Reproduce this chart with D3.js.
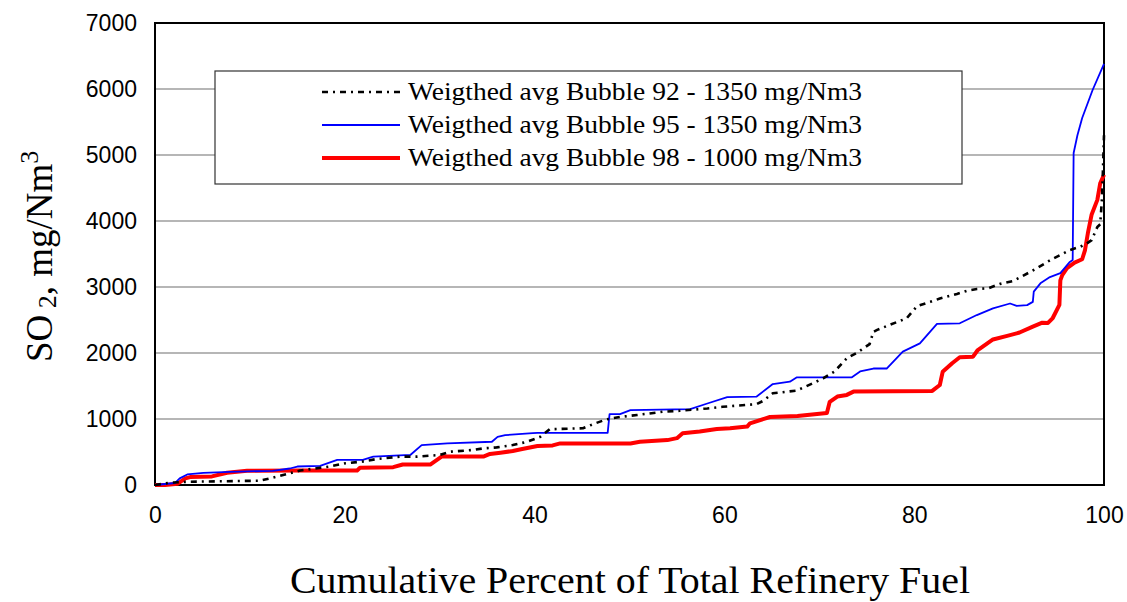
<!DOCTYPE html>
<html><head><meta charset="utf-8">
<script src="https://cdn.jsdelivr.net/npm/d3@7"></script>
<style>body{margin:0;background:#fff}svg{display:block}</style>
</head><body>
<svg id="c" width="1127" height="602"></svg>
<script>
// ---- data (x = cumulative % of total refinery fuel, y = SO2 mg/Nm3) ----
const xTicks = [0, 20, 40, 60, 80, 100];
const yTicks = [0, 1000, 2000, 3000, 4000, 5000, 6000, 7000];
const seriesNames = [
  "Weigthed avg Bubble 92 - 1350 mg/Nm3",
  "Weigthed avg Bubble 95 - 1350 mg/Nm3",
  "Weigthed avg Bubble 98 - 1000 mg/Nm3"
];
const bubble92X = [0,1.6,3.7,11.0,12.1,13.5,15.3,18.4,20.1,21.9,23.4,25.8,27.6,30.0,31.1,33.5,34.6,36.0,37.7,39.2,40.6,41.6,45.1,46.4,47.6,49.2,50.8,53.5,55.3,58.2,59.8,63.4,64.1,65.1,67.6,69.3,70.4,71.6,72.9,74.0,75.3,75.7,76.1,77.4,79.2,80.3,81.7,82.7,84.5,85.6,86.6,87.8,89.0,90.4,91.4,92.7,94.5,95.4,96.4,97.5,98.2,98.7,99.3,99.6,99.8,99.9,100];
const bubble92Y = [0,35,50,65,100,150,220,280,330,355,395,430,430,455,505,530,555,570,605,655,730,845,860,935,995,1035,1060,1110,1125,1160,1185,1225,1275,1390,1430,1540,1615,1720,1920,2005,2135,2320,2350,2425,2525,2710,2775,2825,2895,2945,2970,2980,3045,3090,3165,3265,3420,3485,3560,3610,3660,3710,3910,3950,4370,4820,5300];
const bubble95X = [0,2.1,2.6,3.4,5.1,7.9,12.4,14.2,15.0,17.4,19.2,21.9,23.0,26.9,28.1,30.8,35.5,36.1,36.9,39.8,40.3,47.7,47.9,49.0,50.1,56.4,58.2,60.3,63.4,65.1,66.9,67.6,73.4,74.3,75.7,77.1,78.8,80.6,82.4,84.8,86.6,88.3,90.1,90.8,91.9,92.5,92.6,93.3,94.3,95.4,96.4,96.7,96.8,97.2,97.7,98.8,100];
const bubble95Y = [0,30,100,160,185,200,215,250,280,290,380,380,430,455,605,630,655,730,755,785,790,790,1075,1075,1135,1150,1235,1330,1340,1530,1565,1630,1630,1720,1765,1765,2020,2145,2440,2450,2575,2675,2750,2715,2725,2775,2930,3055,3150,3210,3380,3410,5030,5300,5560,5985,6380];
const bubble98X = [0,1.05,2.4,3.2,3.7,6.0,7.6,9.7,15.3,21.3,21.6,25.1,26.1,29.0,30.2,34.6,35.3,36.4,37.7,38.7,40.3,41.9,42.7,50.1,51.1,54.0,55.0,55.6,57.4,59.2,60.6,62.4,62.7,64.8,67.7,70.8,71.1,71.9,72.9,73.6,81.9,82.7,83.0,84.0,84.8,86.2,86.7,88.3,89.8,91.1,92.5,93.5,94.1,94.6,95.3,95.4,95.6,96.1,96.9,97.7,98.0,98.3,98.7,99.3,99.6,100];
const bubble98Y = [0,0,20,100,120,130,185,215,220,220,260,270,310,310,430,430,470,490,515,545,590,600,630,630,655,680,710,785,810,850,860,885,935,1030,1045,1090,1260,1340,1365,1415,1425,1515,1715,1845,1935,1945,2045,2205,2260,2310,2400,2460,2455,2530,2730,3100,3180,3285,3370,3420,3560,3815,4100,4320,4570,4700];

// ---- layout ----
const L = 155, R = 1104, T = 23, B = 485;
const svg = d3.select("#c");
const x = d3.scaleLinear().domain([0, 100]).range([L, R]);
const y = d3.scaleLinear().domain([0, 7000]).range([B, T]);

// gridlines
svg.append("g").selectAll("line").data(yTicks.filter(d => d > 0 && d < 7000)).join("line")
  .attr("x1", L).attr("x2", R).attr("y1", d => y(d)).attr("y2", d => y(d))
  .attr("stroke", "#6e6e6e").attr("stroke-width", 1.2);

// axes with labels
const yAxis = svg.append("g").attr("transform", `translate(${L},0)`)
  .call(d3.axisLeft(y).tickValues(yTicks).tickSize(0).tickPadding(18).tickFormat(d3.format("d")));
const xAxis = svg.append("g").attr("transform", `translate(0,${B})`)
  .call(d3.axisBottom(x).tickValues(xTicks).tickSize(0).tickPadding(22).tickFormat(d3.format("d")));
[yAxis, xAxis].forEach(a => {
  a.select(".domain").remove();
  a.selectAll("text").attr("font-family", "Liberation Sans, Arial, sans-serif")
    .attr("font-size", 23).attr("fill", "#000");
});

// frame
svg.append("rect").attr("x", L).attr("y", T).attr("width", R - L).attr("height", B - T)
  .attr("fill", "none").attr("stroke", "#000").attr("stroke-width", 2);

// series
const line = d3.line().x(d => x(d[0])).y(d => y(d[1]));
const zip = (a, b) => a.map((v, i) => [v, b[i]]);
const styles = [
  {data: zip(bubble92X, bubble92Y), color: "#000", width: 2.6, dash: "6,5,2,5"},
  {data: zip(bubble95X, bubble95Y), color: "#0000ff", width: 1.8, dash: null},
  {data: zip(bubble98X, bubble98Y), color: "#ff0000", width: 4, dash: null}
];
// draw order: red first, then blue, then black dashed on top
[2, 1, 0].forEach(i => {
  const s = styles[i];
  svg.append("path").datum(s.data).attr("d", line)
    .attr("fill", "none").attr("stroke", s.color).attr("stroke-width", s.width)
    .attr("stroke-dasharray", s.dash).attr("stroke-linejoin", "round");
});

// legend
const lg = svg.append("g");
lg.append("rect").attr("x", 215).attr("y", 71).attr("width", 747).attr("height", 113)
  .attr("fill", "#fff").attr("stroke", "#333").attr("stroke-width", 1.2);
const rowsY = [92, 125, 158];
styles.forEach((s, i) => {
  lg.append("line").attr("x1", 322).attr("x2", 400).attr("y1", rowsY[i]).attr("y2", rowsY[i])
    .attr("stroke", s.color).attr("stroke-width", s.width).attr("stroke-dasharray", s.dash);
  lg.append("text").attr("x", 408).attr("y", rowsY[i] + 8)
    .attr("font-family", "Liberation Serif, Times New Roman, serif").attr("font-size", 25)
    .attr("textLength", 454).attr("lengthAdjust", "spacingAndGlyphs")
    .text(seriesNames[i]);
});

// x axis title
svg.append("text").attr("x", 290).attr("y", 593)
  .attr("font-family", "Liberation Serif, Times New Roman, serif").attr("font-size", 37)
  .attr("textLength", 680).attr("lengthAdjust", "spacingAndGlyphs")
  .text("Cumulative Percent of Total Refinery Fuel");

// y axis title
const yt = svg.append("text").attr("transform", "translate(52,362) rotate(-90)")
  .attr("font-family", "Liberation Serif, Times New Roman, serif").attr("font-size", 37);
yt.append("tspan").text("SO");
yt.append("tspan").attr("font-size", 26).attr("dy", 4).text(" 2");
yt.append("tspan").attr("dy", -4).text(", mg/Nm");
yt.append("tspan").attr("font-size", 26).attr("dy", -14).text("3");
</script>
</body></html>
